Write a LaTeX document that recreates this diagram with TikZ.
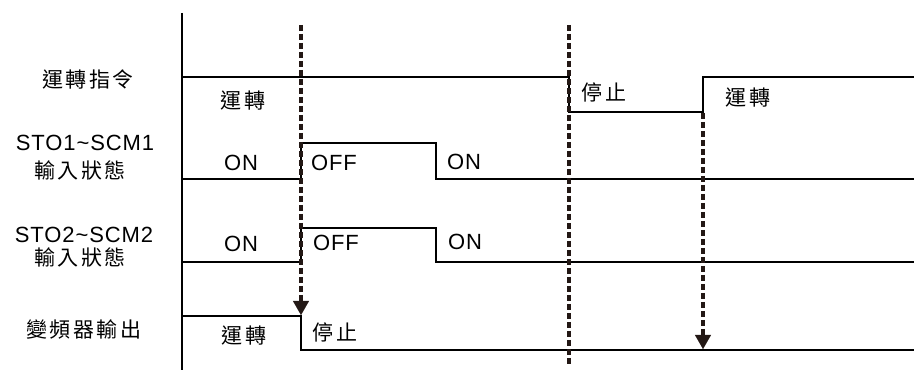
\documentclass[tikz,border=0pt]{standalone}
\usepackage{fontspec}
\setmainfont{Liberation Sans}[LetterSpace=4]
\newfontfamily\cjk{Noto Sans CJK TC}[LetterSpace=12]
\usetikzlibrary{arrows.meta}
\definecolor{ink}{HTML}{231815}

\begin{document}
\begin{tikzpicture}[x=1pt, y=-1pt,
      sig/.style={line width=2.6pt, line join=miter, draw=black},
      guide/.style={line width=3.6pt, draw=ink, dash pattern=on 6pt off 3pt},
      guidearr/.style={guide, -{Triangle[length=14pt, width=16pt, line width=0.1pt]}},
      lbl/.style={font=\fontsize{22}{24}\selectfont, inner sep=0pt},
      zh/.style={font=\cjk\fontsize{21}{24}\selectfont, inner sep=0pt}]
    \useasboundingbox (0,0) rectangle (914,374);
    % time axis
    \coordinate (axtop) at (182,13);
    \coordinate (axbot) at (182,370);
    \draw[sig] (axtop)--(axbot);
    % signal labels
    \node[zh]  (run)   at (88,79)  {運轉指令};
    \node[lbl] (sto1)  at (85,143) {STO1\textasciitilde SCM1};
    \node[zh]  (in1)   at (80,170) {輸入狀態};
    \node[lbl] (sto2)  at (84,235) {STO2\textasciitilde SCM2};
    \node[zh]  (in2)   at (80,257) {輸入狀態};
    \node[zh]  (drv)   at (84,330) {變頻器輸出};
    % waveforms
    \draw[sig] (182,77)--(569,77)--(569,112)--(703,112)--(703,77)--(914,77);
    \draw[sig] (182,179)--(301,179)--(301,143)--(436,143)--(436,179)--(914,179);
    \draw[sig] (182,262)--(301,262)--(301,228)--(436,228)--(436,262)--(914,262);
    \draw[sig] (182,316)--(301,316)--(301,350)--(914,350);
    % state texts
    \node[zh]  (r1) at (243,101) {運轉};
    \node[zh]  (h1) at (604,92)  {停止};
    \node[zh]  (r2) at (748,98)  {運轉};
    \node[lbl] (a1) at (241,163) {ON};
    \node[lbl] (a2) at (334,163) {OFF};
    \node[lbl] (a3) at (464,162) {ON};
    \node[lbl] (b1) at (241,244) {ON};
    \node[lbl] (b2) at (336,243) {OFF};
    \node[lbl] (b3) at (465,242) {ON};
    \node[zh]  (r3) at (244,336) {運轉};
    \node[zh]  (h2) at (335,332) {停止};
    % dashed guides
    \coordinate (g1top) at (301,25);
    \coordinate (g1end) at (301,315);
    \coordinate (g2top) at (569,25);
    \coordinate (g2end) at (569,366);
    \coordinate (g3top) at (703,113);
    \coordinate (g3end) at (703,349);
    \draw[guidearr] (g1top)--(g1end);
    \draw[guide] (g2top)--(g2end);
    \draw[guidearr] (g3top)--(g3end);
  \end{tikzpicture}
\end{document}
